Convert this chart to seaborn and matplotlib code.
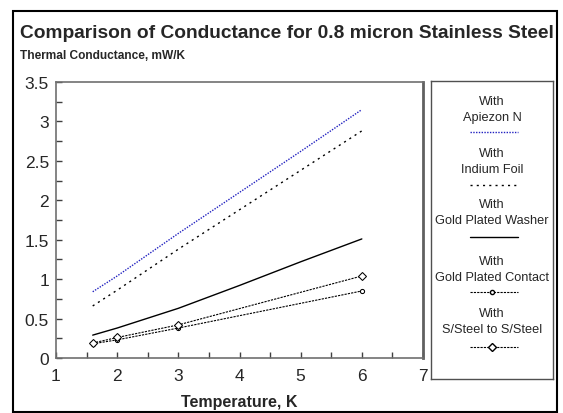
import pandas as pd
import matplotlib
matplotlib.use("Agg")
import matplotlib.pyplot as plt
import seaborn as sns
from matplotlib.lines import Line2D
from matplotlib.patches import Rectangle

# data
temp_full = [1.6, 2, 3, 4, 5, 6]
apiezon = [0.84, 1.04, 1.58, 2.10, 2.62, 3.15]
indium = [0.66, 0.86, 1.38, 1.88, 2.38, 2.88]
washer = [0.29, 0.38, 0.63, 0.92, 1.22, 1.51]

temp_pts = [1.6, 2, 3, 6]
contact = [0.18, 0.23, 0.38, 0.85]
steel = [0.19, 0.26, 0.42, 1.04]

legend_labels = ["With\nApiezon N", "With\nIndium Foil", "With\nGold Plated Washer",
                 "With\nGold Plated Contact", "With\nS/Steel to S/Steel"]

sns.set_style("ticks")
plt.rcParams['font.family'] = ['Liberation Sans', 'DejaVu Sans']

fig = plt.figure(figsize=(5.63, 4.14), dpi=100)
ax = fig.add_axes([56/563, 1-359/414, (423-56)/563, (359-83)/414])

styles = [
    (temp_full, apiezon, dict(color='#2020c0', linestyle=(0, (1, 1)), linewidth=1.0)),
    (temp_full, indium, dict(color='black', linestyle=(0, (1.5, 3)), linewidth=1.0)),
    (temp_full, washer, dict(color='black', linestyle='-', linewidth=1.0)),
    (temp_pts, contact, dict(color='black', linestyle=(0, (2, 1)), linewidth=0.8,
                             marker='o', markersize=3, markerfacecolor='white',
                             markeredgecolor='black')),
    (temp_pts, steel, dict(color='black', linestyle=(0, (2, 1)), linewidth=0.8,
                           marker='D', markersize=4.5, markerfacecolor='white',
                           markeredgecolor='black')),
]

for x, y, kw in styles:
    sns.lineplot(x=x, y=y, ax=ax, **kw)

ax.set_xlim(1, 7)
ax.set_ylim(0, 3.5)
ax.set_xticks([1, 2, 3, 4, 5, 6, 7])
ax.set_xticks([1.5, 2.5, 3.5, 4.5, 5.5, 6.5], minor=True)
ax.set_yticks([0, 0.5, 1, 1.5, 2, 2.5, 3, 3.5])
ax.set_yticklabels(['0', '0.5', '1', '1.5', '2', '2.5', '3', '3.5'])
ax.set_yticks([0.25, 0.75, 1.25, 1.75, 2.25, 2.75, 3.25], minor=True)
ax.tick_params(which='both', direction='in', length=4, width=1, color='#404040',
               labelsize=12.5)
ax.tick_params(axis='y', pad=5)
ax.tick_params(axis='x', pad=7)
for s in ax.spines.values():
    s.set_color('#707070')
    s.set_linewidth(1.2)
ax.spines['right'].set_linewidth(2)
ax.spines['right'].set_color('#606060')

ax.set_xlabel('Temperature, K', fontsize=11.5, fontweight='bold', labelpad=8)

fig.text(20/563, 1-34/414, 'Comparison of Conductance for 0.8 micron Stainless Steel',
         fontsize=13.75, fontweight='bold', va='center', ha='left')
fig.text(20/563, 1-56/414, 'Thermal Conductance, mW/K', fontsize=8.6, fontweight='bold',
         va='center', ha='left')

# outer frame
fig.patches.append(Rectangle((13/563, 0.002), (557-13)/563, (414-12)/414 - 0.002,
                             transform=fig.transFigure, fill=False,
                             edgecolor='black', linewidth=1.5))

# legend panel
lax = fig.add_axes([431/563, 1-380/414, (553-431)/563, (380-82)/414])
lax.set_xlim(0, 1)
lax.set_ylim(380, 82)
lax.set_xticks([])
lax.set_yticks([])
for s in lax.spines.values():
    s.set_color('#505050')
    s.set_linewidth(1)

text_y = [110, 162, 213, 270, 322]
line_y = [133, 186, 238, 293, 348]
for (x, y, kw), lab, ty, ly in zip(styles, legend_labels, text_y, line_y):
    lax.text(0.5, ty, lab, ha='center', va='center', fontsize=9.2, linespacing=1.35)
    k = dict(kw)
    mk = k.pop('marker', None)
    lax.add_line(Line2D([0.32, 0.71], [ly, ly], **k))
    if mk:
        lax.add_line(Line2D([0.5], [ly], marker=mk, markersize=k['markersize'],
                            markerfacecolor='white', markeredgecolor='black',
                            linestyle='none'))

fig.savefig('out.png', dpi=100)
